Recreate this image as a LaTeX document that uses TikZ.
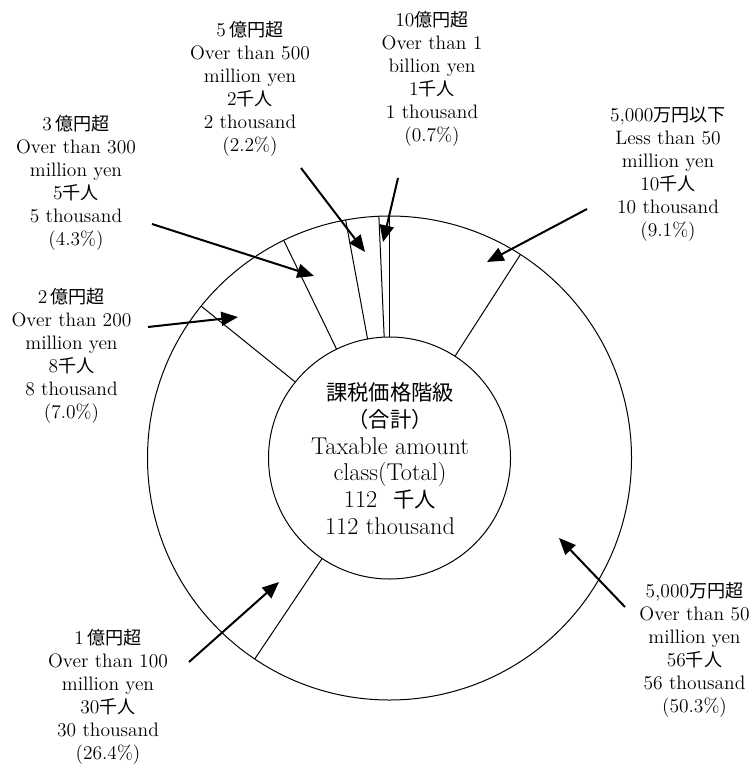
\documentclass[tikz,border=0pt]{standalone}
\usepackage{fontspec}
\newfontfamily\jp{Noto Sans CJK JP}[Scale=0.93]
\usetikzlibrary{arrows.meta,calc}
\newcommand{\cjkc}[1]{{\jp\fontsize{17.2}{20}\selectfont #1}}
\begin{document}
\begin{tikzpicture}[x=0.75pt,y=-0.75pt,
  lbl/.style={align=center,inner sep=0pt,font=\fontsize{14.6}{17.25}\selectfont},
  ctrtext/.style={align=center,inner sep=0pt,font=\fontsize{18.2}{20}\selectfont},
  arr/.style={line width=1.5pt,-{Triangle[length=12.5pt,width=10.5pt]}},
  ring/.style={line width=0.75pt},
  divider/.style={line width=0.75pt}]
\useasboundingbox (0,0) rectangle (752,766);
\coordinate (O) at (389.5,458);
% rings
\draw[ring] (O) circle[radius=181.5pt];
\draw[ring] (O) circle[radius=90.75pt];
% slice dividers
\foreach \a in {90,92.52,100.44,115.92,141.12,57.24,-123.84}
  \draw[divider] ($(O)+(\a:90.75pt)$) -- ($(O)+(\a:181.5pt)$);
% centre text
\node[ctrtext] (ctr) at (390,458.5) {\cjkc{課税価格階級}\\\cjkc{（合計）}\\Taxable amount\\class(Total)\\112\hspace{12pt}\cjkc{千人}\\112 thousand};
% labels
\node[lbl] (lA) at (250,89) {5\,{\jp 億円超}\\Over than 500\\million yen\\2{\jp 千人}\\2 thousand\\(2.2\%)};
\node[lbl] (lB) at (76,182.5) {3\,{\jp 億円超}\\Over than 300\\million yen\\5{\jp 千人}\\5 thousand\\(4.3\%)};
\node[lbl] (lC) at (71.5,356) {2\,{\jp 億円超}\\Over than 200\\million yen\\8{\jp 千人}\\8 thousand\\(7.0\%)};
\node[lbl] (lD) at (432,79) {10{\jp 億円超}\\Over than 1\\billion yen\\1{\jp 千人}\\1 thousand\\(0.7\%)};
\node[lbl] (lE) at (668,174.5) {5,000{\jp 万円以下}\\Less than 50\\million yen\\10{\jp 千人}\\10 thousand\\(9.1\%)};
\node[lbl] (lF) at (108,697) {1\,{\jp 億円超}\\Over than 100\\million yen\\30{\jp 千人}\\30 thousand\\(26.4\%)};
\node[lbl] (lG) at (694.5,650) {5,000{\jp 万円超}\\Over than 50\\million yen\\56{\jp 千人}\\56 thousand\\(50.3\%)};
% arrow ends
\coordinate (sA) at (301,168); \coordinate (tA) at (365,252);
\coordinate (sB) at (152,224); \coordinate (tB) at (314,276);
\coordinate (sC) at (148,327); \coordinate (tC) at (238,317);
\coordinate (sD) at (398,178); \coordinate (tD) at (383,242);
\coordinate (sE) at (587,209); \coordinate (tE) at (487,262);
\coordinate (sF) at (189,662); \coordinate (tF) at (279,582);
\coordinate (sG) at (625,607); \coordinate (tG) at (559,538);
\foreach \k in {A,B,C,D,E,F,G}
  \draw[arr] (s\k) -- (t\k);
\end{tikzpicture}
\end{document}
